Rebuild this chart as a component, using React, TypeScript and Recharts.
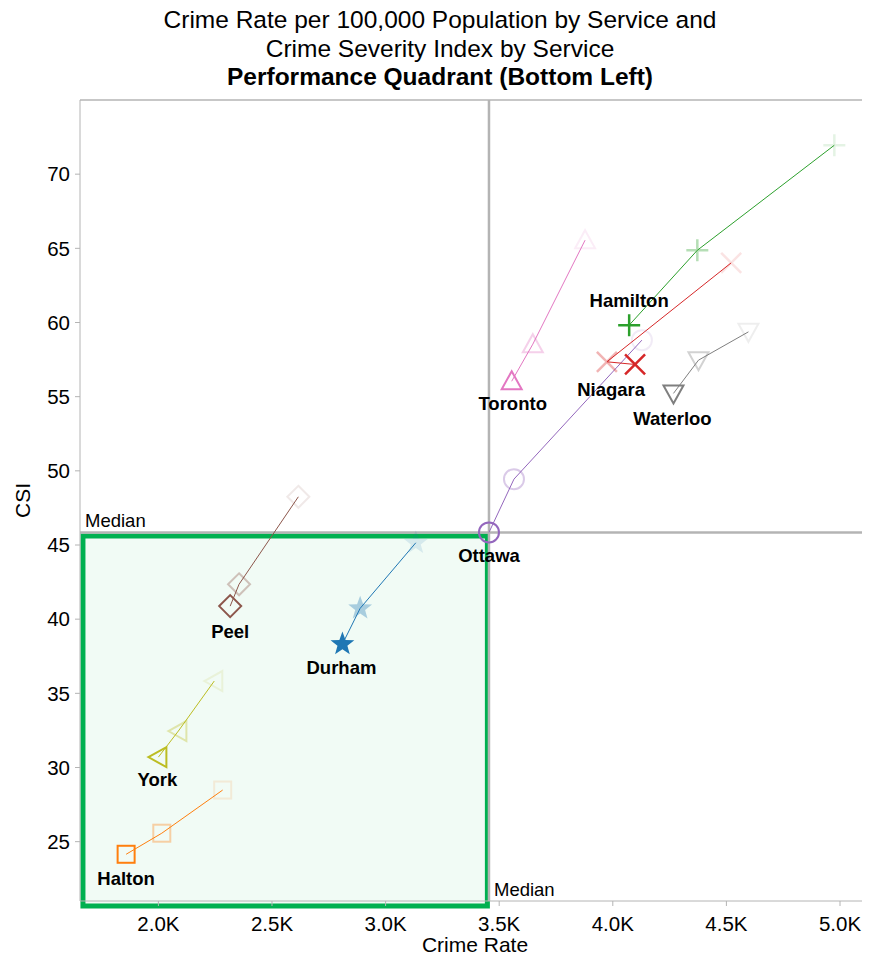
import React from "react";
import {
  ScatterChart,
  Scatter,
  XAxis,
  YAxis,
  ReferenceLine,
  ReferenceArea,
} from "recharts";

// services, oldest -> latest year per service
const services = ["Halton", "York", "Peel", "Durham", "Ottawa", "Toronto", "Hamilton", "Niagara", "Waterloo"];
const rateOldest = [2283, 2246, 2616, 3133, 4128, 3878, 4975, 4521, 4597];
const rateMiddle = [2015, 2088, 2355, 2888, 3565, 3648, 4372, 3974, 4377];
const rateLatest = [1858, 2000, 2316, 2810, 3455, 3555, 4072, 4098, 4267];
const csiOldest = [28.48, 35.83, 48.25, 45.15, 58.81, 65.55, 71.95, 64.02, 59.37];
const csiMiddle = [25.57, 32.46, 42.35, 40.73, 49.44, 58.54, 64.87, 57.35, 57.46];
const csiLatest = [24.15, 30.7, 40.88, 38.32, 45.85, 56.04, 59.82, 57.17, 55.22];

const medianRate = 3455;
const medianCsi = 45.85;
const xTicks = [2000, 2500, 3000, 3500, 4000, 4500, 5000];
const yTicks = [25, 30, 35, 40, 45, 50, 55, 60, 65, 70];

const FONT = "'Liberation Sans', Arial, Helvetica, sans-serif";
const GREEN = "#00b050";
const GRID = "#b4b4b4";
const yearOpacity = [0.13, 0.35, 1];

type Kind = "square" | "triangle-left" | "diamond" | "star" | "circle" | "triangle-up" | "cross" | "x" | "triangle-down";

const style: Record<string, { color: string; kind: Kind; dx: number; dy: number }> = {
  Halton: { color: "#ff7f0e", kind: "square", dx: 0, dy: 31 },
  York: { color: "#bcbd22", kind: "triangle-left", dx: -1, dy: 29 },
  Peel: { color: "#8c564b", kind: "diamond", dx: 0, dy: 32 },
  Durham: { color: "#1f77b4", kind: "star", dx: -1, dy: 30 },
  Ottawa: { color: "#9467bd", kind: "circle", dx: 0, dy: 30 },
  Toronto: { color: "#e377c2", kind: "triangle-up", dx: 1, dy: 29 },
  Hamilton: { color: "#2ca02c", kind: "cross", dx: 0, dy: -18 },
  Niagara: { color: "#d62728", kind: "x", dx: -24, dy: 32 },
  Waterloo: { color: "#7f7f7f", kind: "triangle-down", dx: -1, dy: 32 },
};

const seriesData = services.map((name, i) => ({
  name,
  points: [
    { x: rateOldest[i], y: csiOldest[i], yr: 0 },
    { x: rateMiddle[i], y: csiMiddle[i], yr: 1 },
    { x: rateLatest[i], y: csiLatest[i], yr: 2 },
  ],
}));

function starPath(r1: number, r2: number) {
  const pts: string[] = [];
  for (let k = 0; k < 10; k++) {
    const r = k % 2 === 0 ? r1 : r2;
    const a = -Math.PI / 2 + (k * Math.PI) / 5;
    pts.push(`${(r * Math.cos(a)).toFixed(2)},${(r * Math.sin(a)).toFixed(2)}`);
  }
  return "M" + pts.join("L") + "Z";
}

function Marker({ kind, color }: { kind: Kind; color: string }) {
  const s = { fill: "none", stroke: color, strokeWidth: 2 };
  switch (kind) {
    case "square":
      return <rect x={-8.5} y={-8.5} width={17} height={17} {...s} />;
    case "circle":
      return <circle r={10} {...s} />;
    case "diamond":
      return <path d="M0,-11L11,0L0,11L-11,0Z" {...s} />;
    case "triangle-up":
      return <path d="M0,-10L10,8L-10,8Z" {...s} />;
    case "triangle-down":
      return <path d="M0,10L10,-8L-10,-8Z" {...s} />;
    case "triangle-left":
      return <path d="M-10,0L8,-10L8,10Z" {...s} />;
    case "star":
      return <path d={starPath(12.5, 5.2)} fill={color} stroke="none" />;
    case "cross":
      return <path d="M-11,0H11M0,-11V11" stroke={color} strokeWidth={2.5} fill="none" />;
    case "x":
      return <path d="M-10,-10L10,10M-10,10L10,-10" stroke={color} strokeWidth={2.5} fill="none" />;
  }
  return null;
}

const makeShape = (name: string) => (props: any) => {
  const { cx, cy, payload } = props;
  const st = style[name];
  return (
    <g>
      <g transform={`translate(${cx},${cy})`} opacity={yearOpacity[payload.yr]}>
        <Marker kind={st.kind} color={st.color} />
      </g>
      {payload.yr === 2 && (
        <text
          x={cx + st.dx}
          y={cy + st.dy}
          textAnchor="middle"
          fontFamily={FONT}
          fontSize={18.5}
          fontWeight="bold"
          fill="#000"
        >
          {name}
        </text>
      )}
    </g>
  );
};

export default function App() {
  return (
    <div style={{ position: "relative", width: 870, height: 959, margin: "-8px 0 0 -8px", fontFamily: FONT }}>
      <div
        style={{
          position: "absolute",
          left: 0,
          top: 6,
          width: 880,
          textAlign: "center",
          fontSize: 24.5,
          lineHeight: "28.5px",
          color: "#000",
        }}
      >
        <div>Crime Rate per 100,000 Population by Service and</div>
        <div>Crime Severity Index by Service</div>
        <div style={{ fontWeight: "bold" }}>Performance Quadrant (Bottom Left)</div>
      </div>
      <ScatterChart width={870} height={959} margin={{ top: 100, right: 0, bottom: 0, left: 0 }}>
        <XAxis
          type="number"
          dataKey="x"
          domain={[1655, 5132]}
          allowDataOverflow
          ticks={xTicks}
          tickFormatter={(v: number) => `${(v / 1000).toFixed(1)}K`}
          height={58}
          tickSize={5}
          tickMargin={10}
          stroke={GRID}
          tick={{ fill: "#000", fontSize: 20.5, fontFamily: FONT }}
          label={{ value: "Crime Rate", position: "insideBottom", offset: 7, fill: "#000", fontSize: 21, fontFamily: FONT }}
        />
        <YAxis
          type="number"
          dataKey="y"
          domain={[21, 75]}
          allowDataOverflow
          ticks={yTicks}
          width={80}
          tickSize={5}
          tickMargin={5}
          stroke={GRID}
          tick={{ fill: "#000", fontSize: 20.5, fontFamily: FONT }}
          label={{
            content: (p: any) => {
              const vb = p.viewBox || { x: 0, y: 100, height: 801 };
              const x = vb.x + 22;
              const y = vb.y + vb.height / 2;
              return (
                <text x={x} y={y} transform={`rotate(-90 ${x} ${y})`} textAnchor="middle" dominantBaseline="central" fontSize={21} fontFamily={FONT} fill="#000">
                  CSI
                </text>
              );
            },
          }}
        />
        <ReferenceArea
          x1={1668}
          x2={3448}
          y1={20.66}
          y2={45.6}
          ifOverflow="visible"
          fill={GREEN}
          fillOpacity={0.055}
          stroke={GREEN}
          strokeWidth={5}
          strokeOpacity={1}
        />
        <ReferenceLine y={75} stroke={GRID} strokeWidth={1.5} />
        <ReferenceLine
          y={medianCsi}
          stroke={GRID}
          strokeWidth={2.5}
          label={(p: any) => (
            <text x={p.viewBox.x + 5} y={p.viewBox.y - 5} fontSize={18.5} fontFamily={FONT} fill="#000">
              Median
            </text>
          )}
        />
        <ReferenceLine
          x={medianRate}
          stroke={GRID}
          strokeWidth={2.5}
          label={(p: any) => (
            <text x={p.viewBox.x + 5} y={p.viewBox.y + p.viewBox.height - 5} fontSize={18.5} fontFamily={FONT} fill="#000">
              Median
            </text>
          )}
        />
        {seriesData.map((s) => (
          <Scatter
            key={s.name}
            name={s.name}
            data={s.points}
            fill={style[s.name].color}
            line={{ stroke: style[s.name].color, strokeWidth: 1 }}
            lineType="joint"
            shape={makeShape(s.name)}
            isAnimationActive={false}
          />
        ))}
      </ScatterChart>
    </div>
  );
}
